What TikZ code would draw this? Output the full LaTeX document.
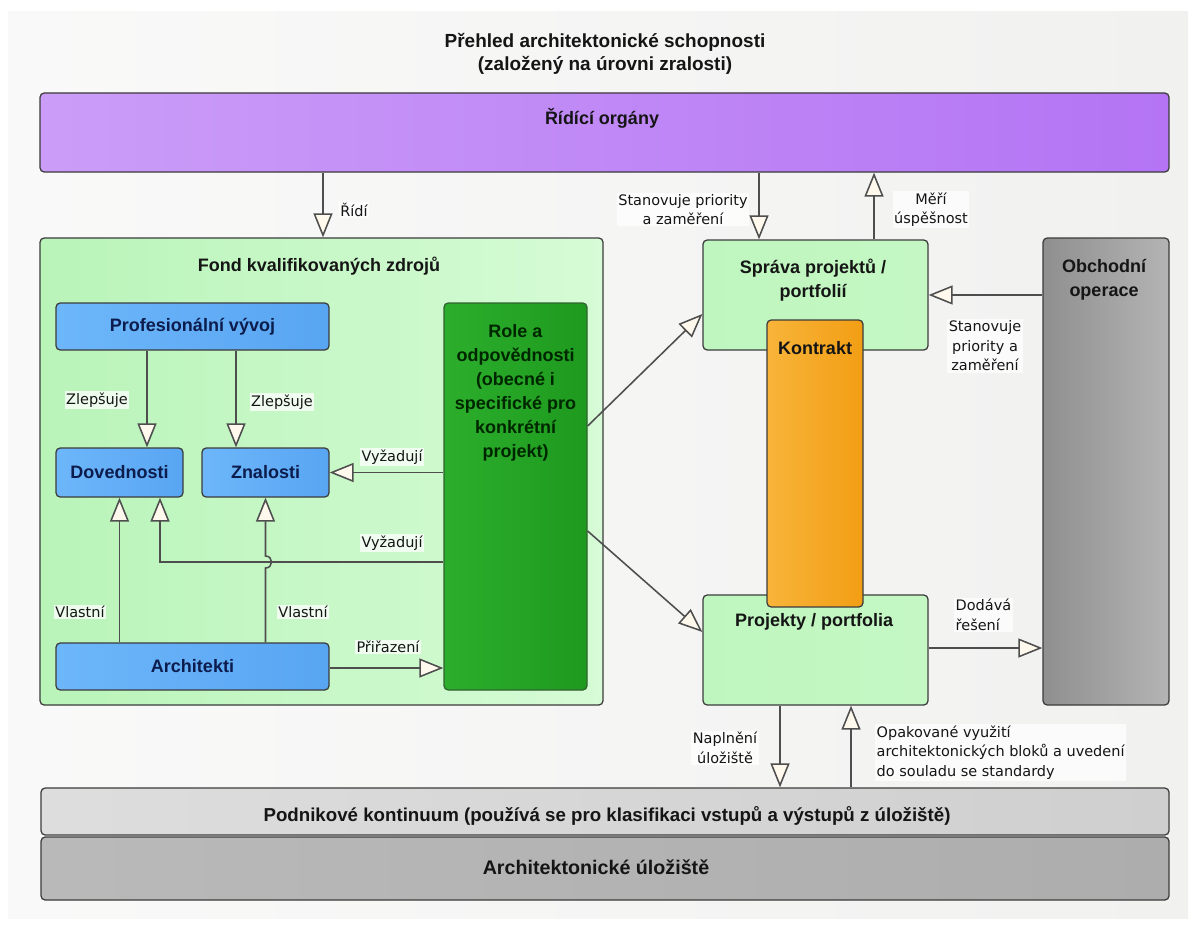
\documentclass[tikz,border=0pt]{standalone}
\usepackage{fontspec}
\setmainfont{Liberation Sans}
\newfontfamily\lblfont{DejaVu Sans}
\usetikzlibrary{arrows.meta}
\newdimen\pxu \pxu=0.025cm
\definecolor{panel}{HTML}{F1F1F0}
\definecolor{edge}{HTML}{3C3C3C}
\definecolor{wire}{HTML}{4E4E4E}
\definecolor{tipfill}{HTML}{FFF8EC}
\definecolor{ink}{HTML}{151515}
\definecolor{navy}{HTML}{0C1C4C}
\definecolor{purpleL}{HTML}{CB9DF8}
\definecolor{purpleR}{HTML}{B474F4}
\definecolor{fondL}{HTML}{B9F4B9}
\definecolor{fondR}{HTML}{D6FBD6}
\definecolor{blueL}{HTML}{6DB6FA}
\definecolor{blueR}{HTML}{58A5F2}
\definecolor{roleL}{HTML}{2CAE2C}
\definecolor{roleR}{HTML}{1E9A1E}
\definecolor{mintL}{HTML}{BFF6BF}
\definecolor{mintM}{HTML}{E6FEE6}
\definecolor{mintR}{HTML}{C4F7C4}
\definecolor{orangeL}{HTML}{F8B43A}
\definecolor{orangeR}{HTML}{F29E14}
\definecolor{greyL}{HTML}{8F8F8F}
\definecolor{greyM}{HTML}{A8A8A8}
\definecolor{greyR}{HTML}{B4B4B4}
\definecolor{contin}{HTML}{CFCFCF}
\definecolor{repo}{HTML}{ADADAD}
\begin{document}
\begin{tikzpicture}[x=0.025cm,y=-0.025cm,
  box/.style={draw=edge,line width=0.9pt,rounded corners=3pt,inner sep=0pt},
  hdr/.style={font=\bfseries\fontsize{12.8}{17}\selectfont,align=center,text=ink},
  lbl/.style={font=\lblfont\fontsize{10.3}{13.9}\selectfont,align=center,
    fill=white,fill opacity=0.75,text opacity=1,inner sep=1pt,text=ink},
  arr/.style={draw=wire,line width=1.1pt,
    -{Triangle[length=0.6cm,width=0.475cm,fill=tipfill]}}]
  \useasboundingbox (0,0) rectangle (1194,926);
  \fill[left color=white!60!panel,right color=panel] (8,12) rectangle (1188,918);
  % title
  \node[hdr,font=\bfseries\fontsize{13.5}{16.4}\selectfont] (ttl) at (605,53.5)
    {Přehled architektonické schopnosti\\(založený na úrovni zralosti)};
  % the big boxes
  \node[box,left color=purpleL,right color=purpleR,minimum width=1129\pxu,
    minimum height=79\pxu] (ridici) at (604.5,132.5) {};
  \node[hdr] (riditxt) at (602,118) {Řídící orgány};
  \node[box,left color=fondL,right color=fondR,minimum width=563\pxu,
    minimum height=467\pxu] (fond) at (321.5,471.5) {};
  \node[hdr] (fondtxt) at (319,266) {Fond kvalifikovaných zdrojů};
  \node[box,left color=mintL,middle color=mintM,right color=mintR,
    minimum width=225\pxu,minimum height=110\pxu] (sprava) at (815.5,295) {};
  \node[hdr] (spravatxt) at (813,280) {Správa projektů /\\portfolií};
  \node[box,left color=mintL,middle color=mintM,right color=mintR,
    minimum width=225\pxu,minimum height=110\pxu] (projekty) at (815.5,650) {};
  \node[hdr] (projektytxt) at (814,622) {Projekty / portfolia};
  \node[box,left color=greyL,middle color=greyM,right color=greyR,
    minimum width=126\pxu,minimum height=467\pxu] (obchod) at (1106,471.5) {};
  \node[hdr] (obchodtxt) at (1104,279.5) {Obchodní\\operace};
  \node[box,left color=contin!70!white,right color=contin,minimum width=1128\pxu,
    minimum height=47\pxu] (kontin) at (605,811.5) {};
  \node[hdr,font=\bfseries\fontsize{13.3}{15}\selectfont] (kontintxt) at (607,816)
    {Podnikové kontinuum (používá se pro klasifikaci vstupů a výstupů z úložiště)};
  \node[box,left color=repo!85!white,right color=repo,minimum width=1128\pxu,
    minimum height=63\pxu] (uloziste) at (605,868.5) {};
  \node[hdr,font=\bfseries\fontsize{14}{16}\selectfont] (ulozistetxt) at (596,867)
    {Architektonické úložiště};
  % inside the pool
  \node[box,left color=blueL,right color=blueR,text=navy,font=\bfseries\fontsize{12.8}{15}\selectfont,
    minimum width=273\pxu,minimum height=47\pxu] (prof) at (192.5,326.5) {Profesionální vývoj};
  \node[box,left color=blueL,right color=blueR,text=navy,font=\bfseries\fontsize{12.8}{15}\selectfont,
    minimum width=127\pxu,minimum height=49\pxu] (dov) at (119.5,472.5) {Dovednosti};
  \node[box,left color=blueL,right color=blueR,text=navy,font=\bfseries\fontsize{12.8}{15}\selectfont,
    minimum width=127\pxu,minimum height=49\pxu] (znal) at (265.5,472.5) {Znalosti};
  \node[box,left color=blueL,right color=blueR,text=navy,font=\bfseries\fontsize{12.8}{15}\selectfont,
    minimum width=273\pxu,minimum height=47\pxu] (arch) at (192.5,666.5) {Architekti};
  \node[box,draw=edge!80!green,left color=roleL,right color=roleR,minimum width=143\pxu,
    minimum height=387\pxu] (role) at (515.5,496.5) {};
  \node[hdr,font=\bfseries\fontsize{12.8}{17.1}\selectfont,text=black!85!green] (roletxt) at (515.5,392.5)
    {Role a\\odpovědnosti\\(obecné i\\specifické pro\\konkrétní\\projekt)};
  % connectors
  \draw[arr] (ridici.south -| 323,0) -- (fond.north -| 323,0);
  \draw[arr] (ridici.south -| 759,0) -- (sprava.north -| 759,0);
  \draw[arr] (sprava.north -| 874,0) -- (ridici.south -| 874,0);
  \draw[arr] (prof.south -| 147,0) -- (dov.north -| 147,0);
  \draw[arr] (prof.south -| 236,0) -- (znal.north -| 236,0);
  \draw[arr] (role.west |- znal.east) -- (znal.east);
  \draw[arr] (role.west |- 0,562) -| (dov.south -| 160,0);
  \draw[arr] (arch.north -| dov.south) -- (dov.south);
  \draw[arr] (arch.north -| znal.south) -- (znal.south |- 0,568)
    .. controls +(8,0) and +(8,0) .. (znal.south |- 0,556) -- (znal.south);
  \draw[arr] (arch.east |- 0,668) -- (role.west |- 0,668);
  \draw[arr] (role.east |- 0,426) -- (sprava.west |- 0,314);
  \draw[arr] (role.east |- 0,531) -- (projekty.west |- 0,632);
  \draw[arr] (obchod.west |- sprava.east) -- (sprava.east);
  \draw[arr] (projekty.east |- 0,648) -- (obchod.west |- 0,648);
  \draw[arr] (projekty.south -| 780,0) -- (kontin.north -| 780,0);
  \draw[arr] (kontin.north -| 851,0) -- (projekty.south -| 851,0);
  % the contract lies over both project boxes
  \node[box,left color=orangeL,right color=orangeR,minimum width=96\pxu,
    minimum height=287\pxu] (kontrakt) at (815,463.5) {};
  \node[hdr] (kontrakttxt) at (815,348) {Kontrakt};
  % connector labels
  \node[lbl] (lridi) at (354,210) {Řídí};
  \node[lbl] (lstan) at (683,209.5) {Stanovuje priority\\a zaměření};
  \node[lbl] (lmeri) at (931,209.5) {Měří\\úspěšnost};
  \node[lbl] (lzlep1) at (97,400) {Zlepšuje};
  \node[lbl] (lzlep2) at (282,402) {Zlepšuje};
  \node[lbl] (lvyz1) at (392,457) {Vyžadují};
  \node[lbl] (lvyz2) at (392,543) {Vyžadují};
  \node[lbl] (lvl1) at (80,612) {Vlastní};
  \node[lbl] (lvl2) at (303,612) {Vlastní};
  \node[lbl] (lpri) at (388,647) {Přiřazení};
  \node[lbl] (lstan2) at (985,346) {Stanovuje\\priority a\\zaměření};
  \node[lbl,align=left,anchor=west] (ldod) at (954,615) {Dodává\\řešení};
  \node[lbl] (lnapl) at (725,748) {Naplnění\\úložiště};
  \node[lbl,align=left,anchor=west] (lopak) at (875,752.5)
    {Opakované využití\\architektonických bloků a uvedení\\do souladu se standardy};
\end{tikzpicture}
\end{document}
